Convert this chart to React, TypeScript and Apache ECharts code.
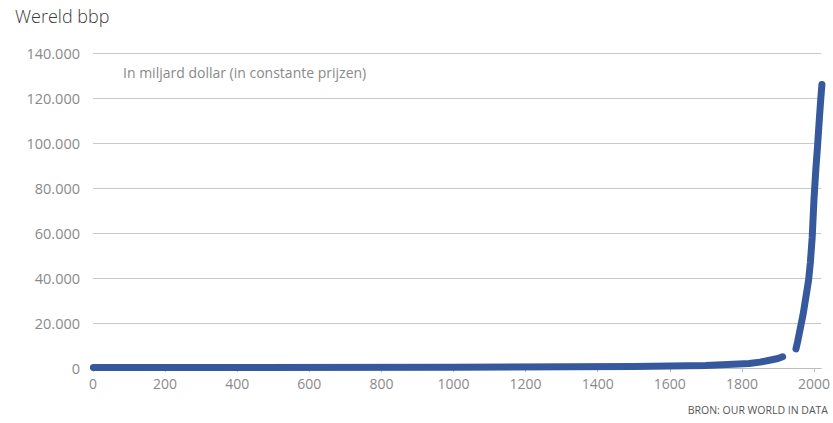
import React, { useEffect, useRef } from "react";
import * as echarts from "echarts";

const earlyYears = [1, 1000, 1500, 1600, 1700, 1820, 1850, 1870, 1900, 1913];
const earlyValues = [200, 300, 700, 900, 1100, 2000, 2600, 3200, 4200, 5000];

const modernYears = [1950, 1955, 1960, 1965, 1970, 1975, 1980, 1985, 1990, 1995, 2000, 2005, 2010, 2015, 2019, 2022];
const modernValues = [8500, 12000, 16000, 20000, 24000, 29000, 34000, 39000, 47000, 58000, 75000, 88000, 99000, 111000, 120000, 126000];

const yTicks = [0, 20000, 40000, 60000, 80000, 100000, 120000, 140000];
const xTicks = [0, 200, 400, 600, 800, 1000, 1200, 1400, 1600, 1800, 2000];

const TITLE = "Wereld bbp";
const SUBTITLE = "In miljard dollar (in constante prijzen)";
const SOURCE = "BRON: OUR WORLD IN DATA";

const FONT = "'Open Sans', Lato, sans-serif";
const LINE_COLOR = "#35599c";

function fmt(v: number): string {
  return String(v).replace(/\B(?=(\d{3})+(?!\d))/g, ".");
}

export default function App() {
  const ref = useRef<HTMLDivElement>(null);
  useEffect(() => {
    if (!ref.current) return;
    const chart = echarts.init(ref.current, undefined, { renderer: "svg" });
    const pair = (xs: number[], ys: number[]) => xs.map((x, i) => [x, ys[i]]);
    chart.setOption({
      animation: false,
      backgroundColor: "#ffffff",
      grid: { left: 93, right: 6, top: 53, bottom: 55, containLabel: false },
      xAxis: {
        type: "value",
        min: 0,
        max: 2020,
        interval: 200,
        axisLine: { show: true, lineStyle: { color: "#bdbdbd", width: 1 } },
        axisTick: { show: true, length: 4, lineStyle: { color: "#bdbdbd" }, customValues: xTicks },
        splitLine: { show: false },
        axisLabel: {
          color: "#8a8a8a",
          fontFamily: FONT,
          fontSize: 14,
          margin: 8,
          customValues: xTicks,
          formatter: (v: number) => String(v),
        },
      },
      yAxis: {
        type: "value",
        min: 0,
        max: yTicks[yTicks.length - 1],
        interval: 20000,
        axisLine: { show: false },
        axisTick: { show: false },
        splitLine: { show: true, lineStyle: { color: "#c8c8c8", width: 1 } },
        axisLabel: {
          color: "#8a8a8a",
          fontFamily: FONT,
          fontSize: 14.5,
          margin: 13,
          formatter: (v: number) => fmt(v),
        },
      },
      series: [
        {
          type: "line",
          data: pair(earlyYears, earlyValues),
          showSymbol: false,
          symbol: "none",
          lineStyle: { color: LINE_COLOR, width: 7, cap: "round", join: "round" },
          z: 3,
        },
        {
          type: "line",
          data: pair(modernYears, modernValues),
          showSymbol: false,
          symbol: "none",
          lineStyle: { color: LINE_COLOR, width: 7, cap: "round", join: "round" },
          z: 3,
        },
      ],
      graphic: [
        {
          type: "text",
          left: 15,
          top: 7,
          style: { text: TITLE, fill: "#3a3a3a", font: `300 18px ${FONT}` },
        },
        {
          type: "text",
          left: 123,
          top: 65,
          style: { text: SUBTITLE, fill: "#8a8a8a", font: `14px ${FONT}` },
        },
        {
          type: "text",
          right: 5,
          top: 404,
          style: { text: SOURCE, fill: "#555555", font: `10.5px ${FONT}` },
        },
      ],
    });
    return () => chart.dispose();
  }, []);
  return (
    <div
      ref={ref}
      style={{ position: "fixed", left: 0, top: 0, width: 833, height: 423, background: "#fff" }}
    />
  );
}
